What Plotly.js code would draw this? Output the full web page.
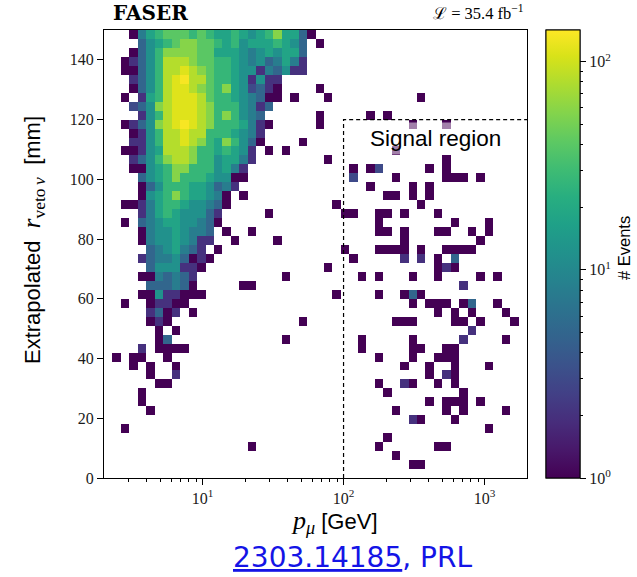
<!DOCTYPE html>
<html><head><meta charset="utf-8">
<script src="https://cdn.plot.ly/plotly-3.0.1.min.js"></script>
<style>html,body{margin:0;padding:0;background:#fff}#chart{width:637px;height:577px}</style>
</head><body><div id="chart"></div>
<script>
// Binning of the 2D histogram
const xBinLo = 2, xBinHi = 2000, nXBins = 50;
const yBinLo = 0, yBinHi = 150, yBinWidth = 3;

// colour-level codes -> event counts
const levelCodes  = ['1','2','3','4','5','6','7','8','9','a','b','c','d'];
const levelCounts = [ 1,  2,  3,  5,  8, 12, 18, 27, 40, 58, 82,112,135];

// rows from top (r 147-150 mm) to bottom (0-3 mm); columns 0-27 (p < ~100 GeV)
const rowsLeft = [
"...15789998987787678a7741...",
"....46789aa9987867778764.1..",
"...1468aaaa9977765676774....",
"..12468bbba9988765645752....",
"..11468bbcba988766254622....",
"...2468bcdbb988762622.......",
"...1468bccba98a763421....1..",
"..1.278bcccb988765411.1...1.",
"...346abcccba8886524........",
"....268bcccba8a8654......1..",
"..1246abcdcba8887521.....1..",
"...1268bbcbb8887652.........",
"...2268bbcba87a8641....1....",
"..11267bbba8878762.1.1......",
"...2468abba8867752........1.",
"...11678aa8886752...........",
"....4678a88876611...........",
"....146888776452............",
"....1678a877651.1...........",
"..1125788766541............1",
"....2578766642.....1........",
"..1.4567766541..............",
"....156676554.1..1..........",
"....156676522..1....1.......",
".....4567542.1..............",
"....245564121...............",
".....4666221..............1.",
"....1154542..........1......",
".....444541.....11..........",
"....11622111...............1",
"..1..12211..................",
".....2412.1.................",
".....121...............1....",
"......1.1...................",
"......14.............1......",
"....2.1111..................",
".1.11..1....................",
"...1.1..1...................",
".....1..2...................",
"......11....................",
"....1.......................",
"....1.......................",
".....1......................",
"............................",
"..1.........................",
"............................",
".................1..........",
"............................",
"............................",
"............................"
];
// same rows, columns 28-49 (p > ~100 GeV)
const rowsRight = [
"......................",
"......................",
"......................",
"......................",
"......................",
"......................",
"......................",
".........1............",
"......................",
"...1.1................",
"........1...1.........",
"......................",
"......................",
"......1...............",
"............1.........",
".1.13.....1.1.........",
".3....1.....111.1.....",
"...1....1.1...........",
".....11.1.1...........",
".........1............",
"11..11.1...1..........",
"....1........1...1....",
"....11.1...11..1.1....",
".......1........1.....",
"1...1111.1..1111......",
".1.....2.2.1.4........",
"...........121........",
"..1.1...1..1....1.1...",
"..............2.......",
"....1..141............",
"........1.111.14..1...",
"...........1.1.1...1..",
"......111....11.1...1.",
"...............2......",
"..1.....1.....2....1..",
"..1.....11..11........",
"....1...1..111........",
".......1..1..1...1....",
"..........1.21........",
"....1..21..1.1........",
".....1........1.......",
"..........1.111.1.....",
"......1.....1.1....1..",
"........21...1........",
".................1....",
".....1................",
"....1......11.........",
"......1...............",
"........11............",
"......................"
];

const xTickVals = [10, 100, 1000];
const xTickText = ['10<sup>1</sup>', '10<sup>2</sup>', '10<sup>3</sup>'];
const xMinorVals = [3,4,5,6,7,8,9,20,30,40,50,60,70,80,90,200,300,400,500,600,700,800,900];
const yTickVals = [0, 20, 40, 60, 80, 100, 120, 140];
const cbMajorCounts = [1, 10, 100];
const cbMajorText = ['10<sup>0</sup>', '10<sup>1</sup>', '10<sup>2</sup>'];
const cbMinorCounts = [2,3,4,5,6,7,8,9,20,30,40,50,60,70,80,90];
const zMaxCount = 142;
const signalX = [100, 100, 2000];
const signalY = [0, 120, 120];

// build bins
const lx0 = Math.log10(xBinLo), lx1 = Math.log10(xBinHi);
const xEdges = [];
for (let k = 0; k <= nXBins; k++) xEdges.push(Math.pow(10, lx0 + (lx1 - lx0) * k / nXBins));
const yEdges = [];
for (let v = yBinLo; v <= yBinHi + 1e-9; v += yBinWidth) yEdges.push(v);

const nRows = rowsLeft.length;
const z = [];
for (let j = 0; j < nRows; j++) {
  const src = nRows - 1 - j;
  const s = rowsLeft[src].padEnd(28, '.').slice(0, 28) + rowsRight[src].padEnd(22, '.').slice(0, 22);
  const row = [];
  for (let i = 0; i < nXBins; i++) {
    const idx = levelCodes.indexOf(s[i]);
    row.push(idx >= 0 ? Math.log10(levelCounts[idx]) : null);
  }
  z.push(row);
}
const zmax = Math.log10(zMaxCount);

const serif = 'Liberation Serif, Times New Roman, serif';
const sans = 'Liberation Sans, Arial, sans-serif';

const cbCommon = {
  x: 1.045, xanchor: 'left', xpad: 0, ypad: 0, y: 0.5, yanchor: 'middle',
  len: 1, lenmode: 'fraction', thickness: 34,
  outlinecolor: '#000', outlinewidth: 1, tickmode: 'array', ticks: 'outside',
  tickcolor: '#000', tickwidth: 1
};

const heat = {
  type: 'heatmap', x: xEdges, y: yEdges, z: z,
  zmin: 0, zmax: zmax, colorscale: 'Viridis', hoverinfo: 'skip',
  colorbar: Object.assign({}, cbCommon, {
    tickvals: cbMajorCounts.map(Math.log10), ticktext: cbMajorText, ticklen: 6,
    tickfont: {family: serif, size: 16, color: '#1a1a1a'}
  })
};
const minorBar = {
  type: 'scatter', mode: 'markers', x: [1e6], y: [-100], hoverinfo: 'skip', showlegend: false,
  marker: {color: [0], cmin: 0, cmax: zmax, colorscale: 'Viridis', showscale: true, size: 1,
    colorbar: Object.assign({}, cbCommon, {
      tickvals: cbMinorCounts.map(Math.log10), ticklen: 3, showticklabels: false
    })}
};
const signal = {
  type: 'scatter', mode: 'lines', x: signalX, y: signalY, hoverinfo: 'skip', showlegend: false,
  line: {color: '#000', width: 1.2, dash: '4px,3px'}
};

const W = 423, H = 448, L = 104, T = 30;
const px = v => (v - L) / W, py = v => (T + H - v) / H;

const layout = {
  width: 637, height: 577,
  margin: {l: 104, r: 110, t: 30, b: 99},
  paper_bgcolor: '#fff', plot_bgcolor: '#fff', showlegend: false,
  xaxis: {
    type: 'log', range: [lx0, lx1], tickmode: 'array', tickvals: xTickVals, ticktext: xTickText,
    ticks: 'outside', ticklen: 6, tickwidth: 1, tickcolor: '#000',
    minor: {tickmode: 'array', tickvals: xMinorVals, ticks: 'outside', ticklen: 3, tickcolor: '#000', showgrid: false},
    showline: true, linecolor: '#000', linewidth: 1, mirror: true, showgrid: false, zeroline: false,
    tickfont: {family: serif, size: 16, color: '#1a1a1a'}
  },
  yaxis: {
    range: [yBinLo, yBinHi], tickmode: 'array', tickvals: yTickVals,
    ticks: 'outside', ticklen: 6, tickwidth: 1, tickcolor: '#000',
    showline: true, linecolor: '#000', linewidth: 1, mirror: true, showgrid: false, zeroline: false,
    tickfont: {family: serif, size: 16, color: '#1a1a1a'}
  },
  annotations: [
    {xref: 'paper', yref: 'paper', x: px(111), y: py(13), xanchor: 'left', yanchor: 'middle', showarrow: false,
     text: '<b>FASER</b>', font: {family: 'DejaVu Serif, serif', size: 20, color: '#000'}},
    {xref: 'paper', yref: 'paper', x: px(526), y: py(13), xanchor: 'right', yanchor: 'middle', showarrow: false,
     text: 'ℒ = 35.4 fb<sup>−1</sup>', font: {family: serif, size: 16.5, color: '#000'}},
    {xref: 'paper', yref: 'paper', x: px(435), y: py(138), xanchor: 'center', yanchor: 'middle', showarrow: false,
     text: 'Signal region', font: {family: sans, size: 22.5, color: '#000'},
     bgcolor: 'rgba(255,255,255,0.5)', borderpad: 3},
    {xref: 'paper', yref: 'paper', x: px(334), y: py(522), xanchor: 'center', yanchor: 'middle', showarrow: false,
     text: '<span style="font-family:Liberation Serif;font-size:26px"><i>p</i><sub><i>μ</i></sub></span> [GeV]',
     font: {family: sans, size: 22, color: '#000'}},
    {xref: 'paper', yref: 'paper', x: px(33), y: py(240), xanchor: 'center', yanchor: 'middle', showarrow: false, textangle: -90,
     text: 'Extrapolated\u00a0\u00a0<span style="font-family:Liberation Serif;font-size:25px"><i>r</i><sub>veto\u2009<i>ν</i></sub></span>\u00a0\u00a0[mm]',
     font: {family: sans, size: 22, color: '#000'}},
    {xref: 'paper', yref: 'paper', x: px(624), y: py(248), xanchor: 'center', yanchor: 'middle', showarrow: false, textangle: -90,
     text: '# Events', font: {family: sans, size: 16.5, color: '#000'}},
    {xref: 'paper', yref: 'paper', x: px(352), y: py(557), xanchor: 'center', yanchor: 'middle', showarrow: false,
     text: '<u>2303.14185</u>, PRL', font: {family: 'DejaVu Sans, sans-serif', size: 28, color: '#1414e6'}}
  ]
};

Plotly.newPlot('chart', [heat, minorBar, signal], layout, {displayModeBar: false, staticPlot: true});
</script>
</body></html>
